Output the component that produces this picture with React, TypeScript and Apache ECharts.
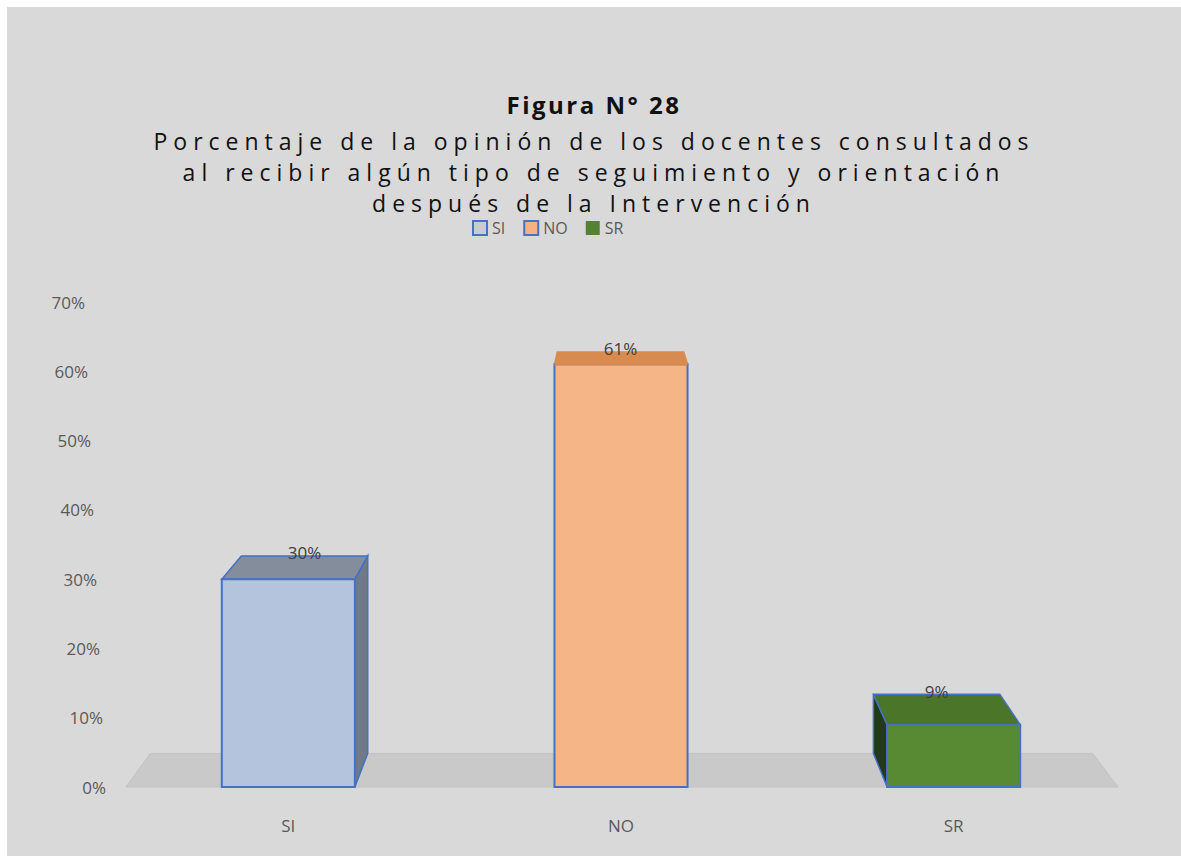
import React, { useEffect, useRef } from 'react';
import * as echarts from 'echarts';

const categories = ['SI', 'NO', 'SR'];
const values = [30, 61, 9];
const yMax = 70;
const yStep = 10;
const titleText = 'Figura N° 28';
const subtitleLines = [
  'Porcentaje de la opinión de los docentes consultados',
  'al recibir algún tipo de seguimiento y orientación',
  'después de la Intervención',
];

const FONT = 'Open Sans';
const faceColors = [
  { front: '#b4c4dc', top: '#838d9b', side: '#6f7987', edge: '#4472c4', topEdge: '#4472c4' },
  { front: '#f6b587', top: '#d98a4f', side: '#c07040', edge: '#4472c4', topEdge: '#d98a4f' },
  { front: '#588a33', top: '#4b7529', side: '#24381a', edge: '#4472c4', topEdge: '#4472c4' },
];
const legendIcons = [
  { color: '#c9cdd3', borderColor: '#4472c4', borderWidth: 2 },
  { color: '#f4b183', borderColor: '#4472c4', borderWidth: 2 },
  { color: '#548235', borderColor: '#548235', borderWidth: 0 },
];

const BAR_RATIO = 0.4;
const K = 0.95;
const VP_X = 0.491;
const VP_Y = 187;

function vanish(cs: any) {
  return [cs.x + cs.width * VP_X, cs.y - VP_Y];
}

function makeBarRenderer(c: any) {
  return (params: any, api: any) => {
    const xi = api.value(0);
    const v = api.value(1);
    const cs = params.coordSys;
    const base = api.coord([xi, 0]);
    const topP = api.coord([xi, v]);
    const w = api.size([1, 0])[0] * BAR_RATIO;
    const [vx, vy] = vanish(cs);
    const back = (p: number[]) => [vx + (p[0] - vx) * K, vy + (p[1] - vy) * K];
    const l = topP[0] - w / 2;
    const r = topP[0] + w / 2;
    const t = topP[1];
    const b = base[1];
    const FLT = [l, t], FRT = [r, t], FLB = [l, b], FRB = [r, b];
    const children: any[] = [];
    if (r < vx) {
      children.push({
        type: 'polygon',
        shape: { points: [FRT, back(FRT), back(FRB), FRB] },
        style: { fill: c.side, stroke: c.edge, lineWidth: 1.5 },
      });
    }
    if (l > vx) {
      children.push({
        type: 'polygon',
        shape: { points: [FLT, back(FLT), back(FLB), FLB] },
        style: { fill: c.side, stroke: c.edge, lineWidth: 1.5 },
      });
    }
    children.push({
      type: 'polygon',
      shape: { points: [FLT, FRT, back(FRT), back(FLT)] },
      style: { fill: c.top, stroke: c.topEdge, lineWidth: 1.5 },
    });
    children.push({
      type: 'rect',
      shape: { x: l, y: t, width: r - l, height: b - t },
      style: { fill: c.front, stroke: c.edge, lineWidth: 2 },
    });
    if (c.topEdge !== c.edge) {
      children.push({
        type: 'line',
        shape: { x1: l, y1: t, x2: r, y2: t },
        style: { stroke: c.topEdge, lineWidth: 2.5 },
      });
    }
    const bt = back([topP[0], t]);
    children.push({
      type: 'text',
      style: {
        text: v + '%',
        x: bt[0],
        y: bt[1] - 3,
        align: 'center',
        verticalAlign: 'middle',
        fill: '#404040',
        fontSize: 17,
        fontFamily: FONT,
      },
      z2: 10,
    });
    return { type: 'group', children };
  };
}

function renderFloor(params: any, api: any) {
  const cs = params.coordSys;
  const y0 = api.coord([0, 0])[1];
  const [vx, vy] = vanish(cs);
  const back = (p: number[]) => [vx + (p[0] - vx) * K, vy + (p[1] - vy) * K];
  const FL = [cs.x + 4, y0], FR = [cs.x + cs.width - 2, y0];
  return {
    type: 'polygon',
    shape: { points: [FL, FR, back(FR), back(FL)] },
    style: { fill: '#c9c9c9', stroke: '#c2c2c2', lineWidth: 1 },
  };
}

// perspective shift of the y tick labels (higher labels sit further left)
const yLabelRich: Record<string, any> = {};
for (let v = 0; v <= yMax; v += yStep) {
  yLabelRich['t' + v] = {
    fontSize: 17,
    color: '#595959',
    fontFamily: FONT,
    padding: [0, (v / yStep) * 3, 0, 0],
  };
}

export default function App() {
  const ref = useRef<HTMLDivElement>(null);
  useEffect(() => {
    if (!ref.current) return;
    const chart = echarts.init(ref.current, null, { renderer: 'svg' });
    const barSeries = categories.map((name, i) => ({
      type: 'custom',
      name,
      renderItem: makeBarRenderer(faceColors[i]),
      data: [[i, values[i]]],
      encode: { x: 0, y: 1 },
      z: 3,
    }));
    chart.setOption({
      animation: false,
      backgroundColor: '#d9d9d9',
      title: {
        text: titleText,
        subtext: subtitleLines.join('\n'),
        left: 'center',
        top: 77,
        itemGap: 6,
        textStyle: { fontSize: 24, fontWeight: 'bold', color: '#111', fontFamily: FONT, lineHeight: 30 },
        subtextStyle: { fontSize: 23, color: '#111', fontFamily: FONT, lineHeight: 31 },
      },
      legend: {
        left: 460,
        top: 208,
        icon: 'rect',
        itemWidth: 14,
        itemHeight: 14,
        itemGap: 18,
        textStyle: { fontSize: 16, color: '#595959', fontFamily: FONT },
        data: categories.map((name, i) => ({ name, itemStyle: legendIcons[i] })),
      },
      grid: { left: 115, right: 61, top: 295, bottom: 69, containLabel: false },
      xAxis: {
        type: 'category',
        data: categories,
        axisLine: { show: false },
        axisTick: { show: false },
        axisLabel: { margin: 30, fontSize: 17, color: '#595959', fontFamily: FONT },
      },
      yAxis: {
        type: 'value',
        min: 0,
        max: yMax,
        interval: yStep,
        splitLine: { show: false },
        axisLine: { show: false },
        axisTick: { show: false },
        axisLabel: {
          formatter: (v: number) => `{t${v}|${v}%}`,
          rich: yLabelRich,
          margin: 16,
          fontSize: 17,
          color: '#595959',
          fontFamily: FONT,
        },
      },
      series: [
        { type: 'custom', name: 'floor', silent: true, renderItem: renderFloor, data: [[0, 0]], encode: { x: 0, y: 1 }, z: 1 },
        ...barSeries,
      ],
    });
    ref.current.querySelectorAll('text').forEach((t) => {
      const s = (t.textContent || '').trim();
      if (s === titleText) (t as any).style.letterSpacing = '2.5px';
      else if (subtitleLines.includes(s)) (t as any).style.letterSpacing = '6px';
    });
    return () => chart.dispose();
  }, []);
  return (
    <div
      ref={ref}
      style={{ position: 'absolute', left: 7, top: 7, width: 1174, height: 849 }}
    />
  );
}
